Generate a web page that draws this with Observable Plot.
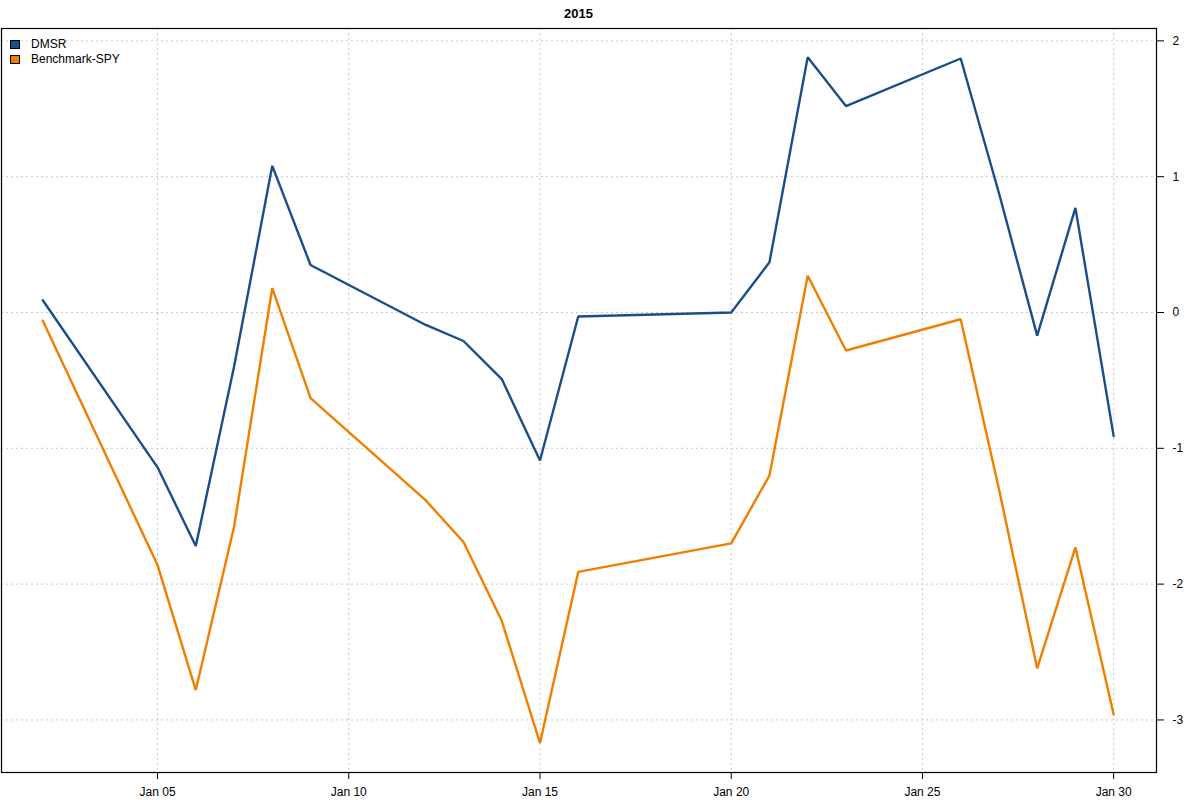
<!DOCTYPE html>
<html>
<head>
<meta charset="utf-8">
<script src="https://cdn.jsdelivr.net/npm/d3@7"></script>
<script src="https://cdn.jsdelivr.net/npm/@observablehq/plot@0.6"></script>
<style>
  body { margin: 0; background: #fff; font-family: "Liberation Sans", Arial, sans-serif; }
  #wrap { position: relative; width: 1200px; height: 800px; }
  #title { position: absolute; top: 6px; left: 0; width: 1157px; text-align: center; font-weight: bold; font-size: 13px; }
  #legend { position: absolute; left: 10px; top: 37px; font-size: 12px; line-height: 15px; }
  #legend .row { display: flex; align-items: center; }
  #legend .sw { width: 8px; height: 7px; border: 1px solid #000; margin-right: 11px; }
</style>
</head>
<body>
<div id="wrap">
  <div id="chart"></div>
  <div id="title">2015</div>
  <div id="legend"></div>
</div>
<script>
const dates = ["2015-01-02","2015-01-05","2015-01-06","2015-01-07","2015-01-08","2015-01-09",
  "2015-01-12","2015-01-13","2015-01-14","2015-01-15","2015-01-16","2015-01-20","2015-01-21",
  "2015-01-22","2015-01-23","2015-01-26","2015-01-27","2015-01-28","2015-01-29","2015-01-30"];
const dmsr = [0.09, -1.14, -1.72, -0.40, 1.08, 0.35, -0.09, -0.21, -0.49, -1.09, -0.03, 0.00, 0.37, 1.88, 1.52, 1.87, 0.88, -0.17, 0.77, -0.91];
const spy  = [-0.06, -1.86, -2.78, -1.58, 0.18, -0.63, -1.38, -1.69, -2.27, -3.17, -1.91, -1.70, -1.20, 0.27, -0.28, -0.05, -1.30, -2.62, -1.73, -2.96];
const seriesNames = ["DMSR", "Benchmark-SPY"];
const seriesColors = ["#1a4e8a", "#f07f00"];
const xTicks = ["2015-01-05","2015-01-10","2015-01-15","2015-01-20","2015-01-25","2015-01-30"];
const yTicks = [-3, -2, -1, 0, 1, 2];

const parse = d3.utcParse("%Y-%m-%d");
const rows = [];
dates.forEach((d, i) => {
  rows.push({date: parse(d), value: dmsr[i], series: seriesNames[0]});
  rows.push({date: parse(d), value: spy[i], series: seriesNames[1]});
});
const day = 86400000;
const x0 = +parse(dates[0]), x1 = +parse(dates[dates.length - 1]);
const ext = (x1 - x0) * 0.04;
const xt = xTicks.map(parse);
const fmt = d3.utcFormat("%b %d");

const chart = Plot.plot({
  width: 1200,
  height: 800,
  marginTop: 28,
  marginBottom: 28,
  marginLeft: 1,
  marginRight: 44,
  style: {fontFamily: "'Liberation Sans', Arial, sans-serif", fontSize: "12px", color: "#000", background: "#fff"},
  x: {type: "utc", domain: [new Date(x0 - ext + 0.04 * day), new Date(x1 + ext)]},
  y: {domain: [-3.387, 2.091]},
  color: {domain: seriesNames, range: seriesColors},
  marks: [
    Plot.gridX(xt, {stroke: "#c8c8c8", strokeOpacity: 1, strokeDasharray: "2,3"}),
    Plot.gridY(yTicks, {stroke: "#c8c8c8", strokeOpacity: 1, strokeDasharray: "2,3"}),
    Plot.line(rows, {x: "date", y: "value", z: "series", stroke: "series", strokeWidth: 2.4, strokeLinejoin: "miter"}),
    Plot.frame({stroke: "#000", strokeWidth: 1.2}),
    Plot.axisX(xt, {anchor: "bottom", tickSize: 7, tickPadding: 8, tickFormat: fmt, label: null}),
    Plot.axisY(yTicks, {anchor: "right", tickSize: 7, tickPadding: 9, tickFormat: d => String(d), label: null})
  ]
});
document.getElementById("chart").appendChild(chart);

const legend = document.getElementById("legend");
seriesNames.forEach((n, i) => {
  const r = document.createElement("div");
  r.className = "row";
  r.innerHTML = `<span class="sw" style="background:${seriesColors[i]}"></span><span>${n}</span>`;
  legend.appendChild(r);
});
</script>
</body>
</html>
